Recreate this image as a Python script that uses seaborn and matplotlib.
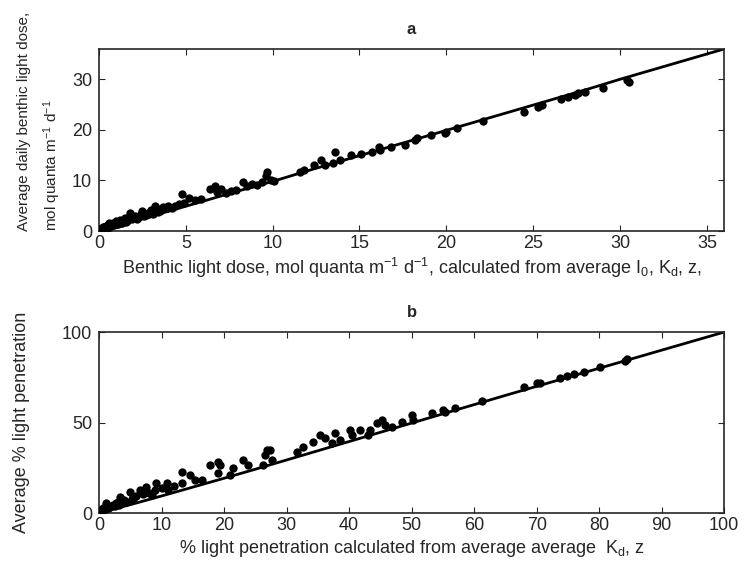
import matplotlib.pyplot as plt
import seaborn as sns

# panel a: benthic light dose (calculated vs measured average)
dose_calc = [0.05, 0.1, 0.15, 0.2, 0.25, 0.3, 0.3, 0.4, 0.45, 0.5, 0.5, 0.6, 0.65, 0.7,
             0.8, 0.85, 0.9, 1.0, 1.05, 1.1, 1.2, 1.25, 1.3, 1.4, 1.5, 1.55, 1.6, 1.7,
             1.8, 1.9, 2.0, 2.1, 2.2, 2.3, 2.4, 2.5, 2.6, 2.7, 2.8, 2.9, 3.0, 3.1,
             3.2, 3.3, 3.4, 3.5, 3.7, 3.9, 4.0, 4.2, 4.4, 4.6, 4.8, 4.9, 5.2, 5.5,
             5.9, 6.4, 6.7, 6.8, 7.0, 7.3, 7.6, 7.9, 8.3, 8.5, 8.8, 9.1, 9.4, 9.6,
             9.7, 9.9, 10.1, 11.6, 11.8, 12.4, 12.8, 13.0, 13.5, 13.6, 13.9, 14.5,
             15.1, 15.7, 16.1, 16.2, 16.8, 17.6, 18.2, 18.3, 19.1, 19.9, 20.0, 20.6,
             22.1, 24.5, 25.3, 25.5, 26.6, 27.0, 27.4, 27.6, 28.0, 29.0, 30.4, 30.5]
dose_avg = [0.1, 0.3, 0.2, 0.5, 0.7, 0.4, 0.8, 1.0, 0.6, 0.6, 1.2, 1.5, 0.9, 0.9,
            1.6, 1.1, 1.3, 1.9, 1.3, 1.4, 2.2, 1.5, 1.6, 2.0, 2.5, 1.8, 1.9, 2.3,
            3.6, 2.3, 2.6, 3.0, 2.4, 2.8, 3.4, 4.0, 2.9, 3.2, 3.5, 3.3, 4.2, 3.4,
            5.0, 4.5, 3.8, 3.9, 4.8, 4.5, 5.0, 4.6, 4.9, 5.3, 7.3, 5.6, 6.6, 6.1,
            6.3, 8.4, 8.9, 7.8, 8.3, 7.6, 8.0, 8.2, 9.6, 8.9, 9.2, 9.1, 9.6, 10.8,
            11.7, 10.0, 9.8, 11.7, 12.0, 13.0, 14.0, 13.0, 13.4, 15.6, 14.0, 15.0,
            15.3, 15.6, 16.6, 16.0, 16.6, 17.0, 17.9, 18.3, 18.9, 19.3, 19.6, 20.3,
            21.7, 23.5, 24.5, 25.0, 26.2, 26.5, 26.8, 27.2, 27.5, 28.3, 29.8, 29.4]
dose_line_x = [0, 2, 4, 6, 8, 10, 12, 14, 16, 18, 20, 22, 24, 26, 28, 30, 32, 34, 36]
dose_line_y = [0, 2.0, 3.9, 5.9, 7.9, 9.8, 11.9, 13.9, 15.9, 17.9, 19.9, 21.9,
               23.9, 25.9, 27.9, 30.0, 32.0, 34.0, 36.0]

# panel b: % light penetration
pen_calc = [0.1, 0.2, 0.4, 0.6, 0.7, 0.9, 1.2, 1.4, 1.5, 1.8, 2.0, 2.3, 2.6, 2.8,
            3.0, 3.2, 3.4, 3.7, 4.0, 4.4, 5.0, 5.3, 5.5, 6.0, 6.6, 7.0, 7.6, 8.0,
            8.5, 9.0, 9.2, 10.0, 10.8, 11.0, 12.0, 13.2, 13.2, 14.6, 15.4, 16.4,
            17.8, 19.1, 19.4, 19.1, 21.0, 21.5, 23.1, 23.9, 26.3, 26.6, 26.8, 27.6,
            27.4, 31.6, 32.6, 34.3, 35.4, 36.2, 37.2, 37.8, 38.6, 40.2, 40.4, 41.8,
            43.1, 43.4, 44.4, 45.2, 45.8, 46.8, 48.4, 50.0, 50.3, 53.2, 55.1, 55.4,
            57.0, 61.2, 67.9, 70.0, 70.6, 73.8, 74.8, 75.9, 77.5, 80.2, 84.2, 84.4]
pen_avg = [0.3, 0.7, 1.5, 1.0, 2.7, 2.0, 5.4, 2.5, 3.0, 3.5, 4.0, 4.5, 3.8, 5.4,
           6.0, 4.6, 9.0, 6.5, 7.0, 6.0, 11.8, 7.5, 8.0, 9.5, 12.7, 10.5, 14.5, 11.0,
           10.0, 12.5, 16.4, 14.0, 16.4, 12.7, 15.0, 22.8, 16.4, 21.0, 18.2, 18.2,
           26.5, 28.3, 26.5, 22.0, 21.0, 24.6, 29.3, 26.5, 26.5, 32.0, 34.8, 29.3,
           34.8, 33.9, 36.6, 39.4, 43.1, 41.3, 38.5, 44.0, 40.3, 45.9, 43.1, 45.9,
           43.1, 45.9, 49.6, 51.4, 48.6, 47.7, 50.4, 54.1, 51.4, 55.1, 56.9, 56.0,
           57.8, 62.0, 69.8, 71.7, 71.8, 74.4, 75.7, 76.8, 78.1, 80.8, 84.1, 85.1]
pen_line_x = [0, 5, 10, 15, 20, 25, 30, 35, 40, 45, 50, 55, 60, 65, 70, 75, 80,
              85, 90, 95, 100]
pen_line_y = [0, 4.6, 9.4, 14.3, 19.2, 24.2, 29.3, 34.4, 39.5, 44.6, 49.7, 54.8,
              59.9, 65.0, 70.0, 75.0, 80.0, 85.0, 90.0, 95.0, 100]

sns.set_style("ticks")
plt.rcParams["font.family"] = ["Liberation Sans", "DejaVu Sans"]
plt.rcParams["mathtext.default"] = "regular"

fig = plt.figure(figsize=(7.47, 5.69), dpi=100)
ax1 = fig.add_axes([0.1325, 0.594, 0.837, 0.320])
ax2 = fig.add_axes([0.1325, 0.0984, 0.837, 0.318])

panels = [
    (ax1, dose_calc, dose_avg, dose_line_x, dose_line_y, 36, range(0, 36, 5), [0, 10, 20, 30], "a",
     "Benthic light dose, mol quanta m$^{-1}$ d$^{-1}$, calculated from average I$_0$, K$_d$, z,"),
    (ax2, pen_calc, pen_avg, pen_line_x, pen_line_y, 100, range(0, 101, 10), [0, 50, 100], "b",
     "% light penetration calculated from average average  K$_d$, z"),
]

for ax, px, py, lx, ly, lim, xt, yt, title, xlabel in panels:
    sns.lineplot(x=lx, y=ly, ax=ax, color="black", linewidth=2.0, estimator=None, sort=False)
    sns.scatterplot(x=px, y=py, ax=ax, color="black", s=36, edgecolor="black", linewidth=0, zorder=3)
    ax.set_xlim(0, lim)
    ax.set_ylim(0, lim)
    ax.set_xticks(list(xt))
    ax.set_yticks(yt)
    ax.tick_params(direction="in", top=True, right=True, length=4, width=0.8, labelsize=13)
    ax.tick_params(axis="x", pad=3)
    ax.tick_params(axis="y", pad=5)
    for s in ax.spines.values():
        s.set_linewidth(1.2)
        s.set_visible(True)
    ax.set_title(title, fontweight="bold", fontsize=12, pad=11)
    ax.set_xlabel(xlabel, fontsize=13, labelpad=3)

ax1.set_ylabel("Average daily benthic light dose,\nmol quanta m$^{-1}$ d$^{-1}$",
               fontsize=11, linespacing=1.7, multialignment="left")
ax1.yaxis.set_label_coords(-0.057, 0.6)
ax2.set_ylabel("Average % light penetration", fontsize=13)
ax2.yaxis.set_label_coords(-0.11, 0.5)

fig.savefig("out.png")
